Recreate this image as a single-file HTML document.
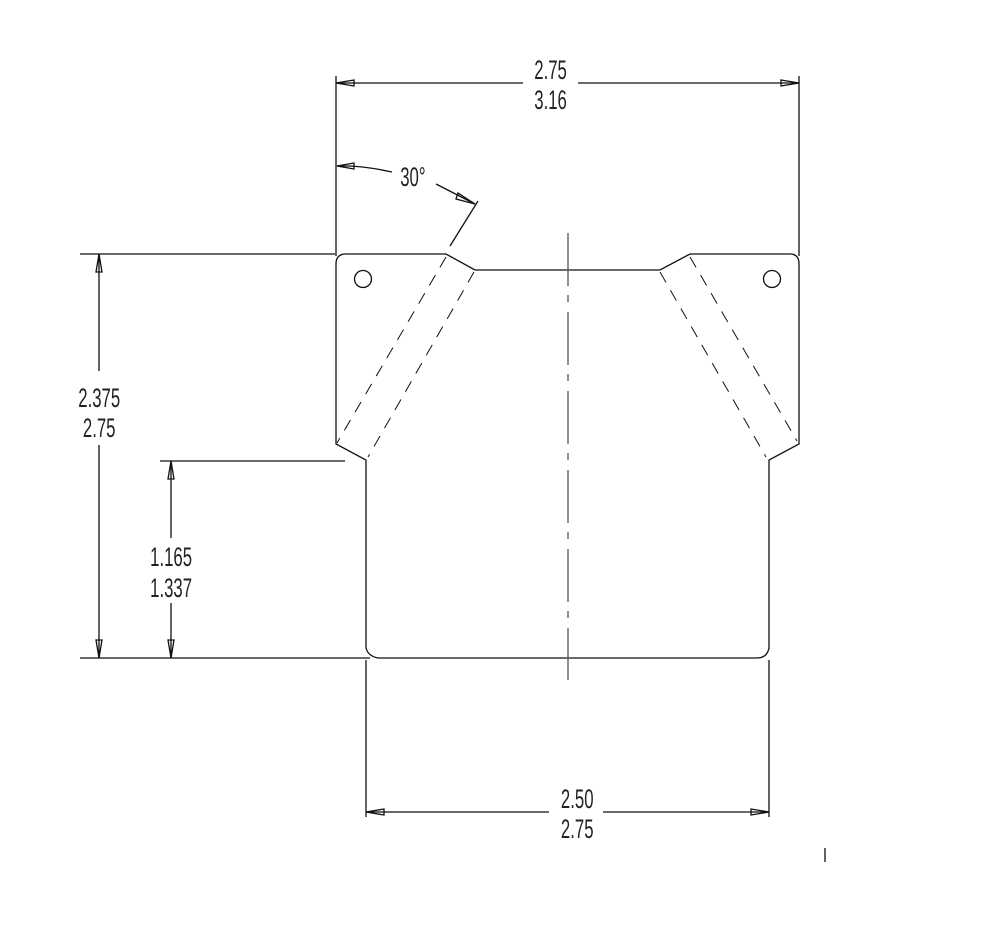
<!DOCTYPE html>
<html><head><meta charset="utf-8"><style>
html,body{margin:0;padding:0;background:#fff;}
svg{display:block;}
text{font-family:"Liberation Sans",sans-serif;font-size:27px;fill:#222;}
</style></head><body>
<svg width="982" height="925" viewBox="0 0 982 925" xmlns="http://www.w3.org/2000/svg">
<g fill="none" stroke="#111" stroke-width="1.3">
<path d="M336,444 L336,264 Q336,254 346,254 L446,254 L475,270 L660,270 L690,254 L790,254 Q799,254 799,264 L799,444 L769,460 L769,648 Q767,658 757,658 L378,658 Q368,656 366,648 L366,460 Z"/>
<circle cx="363" cy="279" r="8.5"/>
<circle cx="772" cy="279" r="8.5"/>
<g stroke-dasharray="12,9" stroke-width="1">
<line x1="446" y1="257" x2="337" y2="443"/>
<line x1="474" y1="272" x2="368" y2="457"/>
<line x1="660" y1="272" x2="766" y2="457"/>
<line x1="690" y1="257" x2="797" y2="441"/>
</g>
<line x1="568" y1="233" x2="568" y2="680" stroke="#555" stroke-dasharray="53,9,7,10"/>
<line x1="336" y1="76" x2="336" y2="256"/>
<line x1="799" y1="76" x2="799" y2="256"/>
<line x1="336" y1="83" x2="523" y2="83"/>
<line x1="578" y1="83" x2="799" y2="83"/>
<path d="M336,83 L354,80 L354,86 Z M799,83 L781,80 L781,86 Z"/>
<path d="M337,166 Q360,165 392,172"/>
<path d="M337,166 L354,163 L354,169 Z"/>
<path d="M436,184 L475,204"/>
<path d="M475,204 L458,193 L456,199 Z"/>
<line x1="478" y1="201" x2="450" y2="246"/>
<line x1="80" y1="254" x2="335" y2="254"/>
<line x1="80" y1="658" x2="370" y2="658"/>
<line x1="99" y1="254" x2="99" y2="371"/>
<line x1="99" y1="445" x2="99" y2="658"/>
<path d="M99,254 L96,272 L102,272 Z M99,658 L96,640 L102,640 Z"/>
<line x1="160" y1="461" x2="345" y2="461"/>
<line x1="171" y1="461" x2="171" y2="538"/>
<line x1="171" y1="603" x2="171" y2="658"/>
<path d="M171,461 L168,479 L174,479 Z M171,658 L168,640 L174,640 Z"/>
<line x1="366" y1="660" x2="366" y2="817"/>
<line x1="769" y1="660" x2="769" y2="817"/>
<line x1="366" y1="812" x2="549" y2="812"/>
<line x1="603" y1="812" x2="769" y2="812"/>
<path d="M366,812 L384,809 L384,815 Z M769,812 L751,809 L751,815 Z"/>
<line x1="825" y1="848" x2="825" y2="862"/>
</g>
<g transform="scale(0.62,1)">
<text x="888" y="79" text-anchor="middle">2.75</text>
<text x="888" y="109" text-anchor="middle">3.16</text>
<text x="160" y="407" text-anchor="middle">2.375</text>
<text x="160" y="437" text-anchor="middle">2.75</text>
<text x="276" y="566" text-anchor="middle">1.165</text>
<text x="276" y="597" text-anchor="middle">1.337</text>
<text x="931" y="808" text-anchor="middle">2.50</text>
<text x="931" y="838" text-anchor="middle">2.75</text>
<text x="666" y="186" text-anchor="middle">30°</text>
</g>
</svg>
</body></html>
